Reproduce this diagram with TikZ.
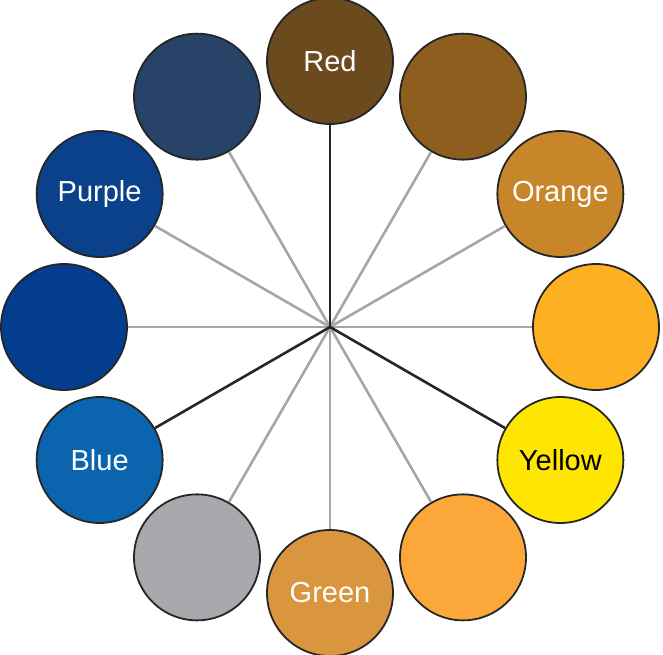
\documentclass[tikz,border=0pt]{standalone}
\usepackage{fontspec}
\setmainfont{Liberation Sans}
\usetikzlibrary{positioning}

\definecolor{wheelRed}{HTML}{6B4A1E}
\definecolor{wheelRust}{HTML}{8E5E1F}
\definecolor{wheelOrange}{HTML}{C8862A}
\definecolor{wheelAmber}{HTML}{FDB022}
\definecolor{wheelYellow}{HTML}{FFE600}
\definecolor{wheelPeach}{HTML}{FBA73A}
\definecolor{wheelGreen}{HTML}{D9963F}
\definecolor{wheelGrey}{HTML}{A7A9AC}
\definecolor{wheelBlue}{HTML}{0A64AE}
\definecolor{wheelNavy}{HTML}{043D8E}
\definecolor{wheelPurple}{HTML}{0B418A}
\definecolor{wheelSlate}{HTML}{274468}

\begin{document}
\begin{tikzpicture}[x=1pt, y=1pt,
  hue/.style={circle, draw=black!85, line width=1.8pt, minimum size=126pt, inner sep=0pt,
    text=white, font=\fontsize{29}{31}\selectfont},
  primary/.style={draw=black!85, line width=2.6pt},
  mixed/.style={draw=black!35, line width=2.6pt}]
  \useasboundingbox (0,0) rectangle (663,654);
  \coordinate (hub) at (330,327);

  \node[hue, fill=wheelRed] (red) at ([shift={(90:266)}]hub) {Red};
  \node[hue, fill=wheelRust] (rust) at ([shift={(60:266)}]hub) {};
  \node[hue, fill=wheelOrange] (orange) at ([shift={(30:266)}]hub) {Orange};
  \node[hue, fill=wheelAmber] (amber) at ([shift={(0:266)}]hub) {};
  \node[hue, fill=wheelYellow, text=black] (yellow) at ([shift={(-30:266)}]hub) {Yellow};
  \node[hue, fill=wheelPeach] (peach) at ([shift={(-60:266)}]hub) {};
  \node[hue, fill=wheelGreen] (green) at ([shift={(-90:266)}]hub) {Green};
  \node[hue, fill=wheelGrey] (grey) at ([shift={(-120:266)}]hub) {};
  \node[hue, fill=wheelBlue] (blue) at ([shift={(-150:266)}]hub) {Blue};
  \node[hue, fill=wheelNavy] (navy) at ([shift={(180:266)}]hub) {};
  \node[hue, fill=wheelPurple] (purple) at ([shift={(150:266)}]hub) {Purple};
  \node[hue, fill=wheelSlate] (slate) at ([shift={(120:266)}]hub) {};

  % spokes: mixes in grey, primaries on top
  \draw[mixed] (hub) -- (rust);
  \draw[mixed] (hub) -- (orange);
  \draw[mixed] (hub) -- (amber);
  \draw[mixed] (hub) -- (peach);
  \draw[mixed] (hub) -- (green);
  \draw[mixed] (hub) -- (grey);
  \draw[mixed] (hub) -- (navy);
  \draw[mixed] (hub) -- (purple);
  \draw[mixed] (hub) -- (slate);
  \draw[primary] (hub) -- (red);
  \draw[primary] (hub) -- (yellow);
  \draw[primary] (hub) -- (blue);
\end{tikzpicture}
\end{document}
